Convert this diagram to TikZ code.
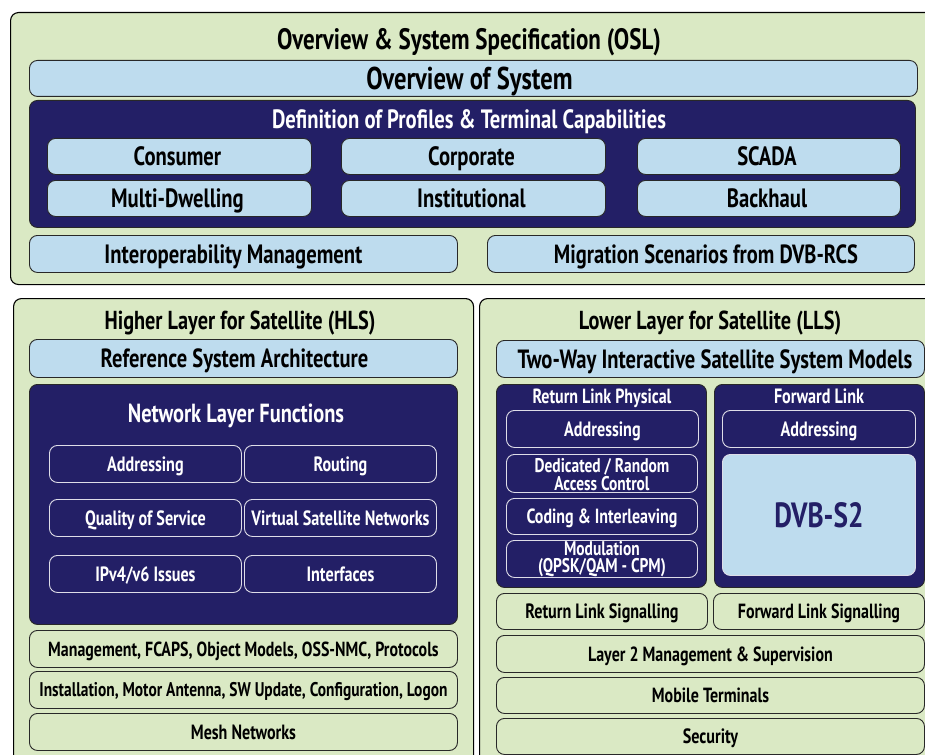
\documentclass[tikz,border=0pt]{standalone}
\usepackage{fontspec}
\setmainfont{PT Sans}[FakeStretch=0.78]
\definecolor{lgreen}{RGB}{218,233,196}
\definecolor{lblue}{RGB}{190,220,238}
\definecolor{navy}{RGB}{35,31,102}
\definecolor{edge}{RGB}{40,40,40}
\tikzset{
  base/.style={anchor=north west, rounded corners=8pt, inner sep=0pt, align=center, font=\bfseries},
  outer/.style={base, fill=lgreen, draw=black, line width=1.1pt},
  bluebox/.style={base, fill=lblue, draw=edge, line width=0.9pt, text=black},
  greenbox/.style={base, fill=lgreen, draw=edge, line width=0.9pt, text=black},
  navybox/.style={base, fill=navy, draw=edge, line width=0.9pt, text=white},
  navyitem/.style={base, fill=navy, draw=white!85!navy, line width=0.9pt, text=white},
  dvbbox/.style={base, fill=lblue, draw=white!85!navy, line width=0.9pt, text=navy},
  tx/.style={inner sep=0pt, text depth=0pt, font=\bfseries\fontsize{#1}{#1}\selectfont, text height=0.7*#1 pt},
  btx/.style={tx=#1, text=black},
  wtx/.style={tx=#1, text=white},
  wtwo/.style={inner sep=0pt, align=center, text=white, font=\bfseries\fontsize{19.8}{#1}\selectfont},
}
\newcommand{\bx}[6]{% style, name, x1, y1, x2, y2
  \pgfmathsetmacro{\bw}{#5-#3}\pgfmathsetmacro{\bh}{#6-#4}%
  \node[#1, minimum width=\bw pt, minimum height=\bh pt] (#2) at (#3,#4) {};}
\begin{document}
\begin{tikzpicture}[x=1pt,y=-1pt]
\useasboundingbox (0,0) rectangle (925,754);
\clip (0,0) rectangle (925,754);
\fill[white] (0,0) rectangle (925,754);
% ---------- OSL ----------
\bx{outer}{osl}{10}{12}{945}{284}
\node[btx=29.5] (osltitle) at (469,39) {Overview \& System Specification (OSL)};
\bx{bluebox}{ovs}{29}{60}{917}{96}
\node[btx=31.5] at ([xshift=-4pt]ovs.center) {Overview of System};
\bx{navybox}{def}{29}{100}{915}{227}
\node[wtx=26.5] (deftitle) at (469,119) {Definition of Profiles \& Terminal Capabilities};
\bx{bluebox}{cons}{47}{138}{311}{174}
\bx{bluebox}{corp}{341}{138}{605}{174}
\bx{bluebox}{scada}{637}{138}{900}{174}
\bx{bluebox}{multi}{47}{180}{311}{216}
\bx{bluebox}{inst}{341}{180}{605}{216}
\bx{bluebox}{back}{637}{180}{900}{216}
\foreach \n/\t in {cons/Consumer, corp/Corporate, scada/SCADA, multi/Multi-Dwelling, inst/Institutional, back/Backhaul}
  \node[btx=26.5] at ([xshift=-2pt]\n.center) {\t};
\bx{bluebox}{interop}{29}{235}{457}{272}
\bx{bluebox}{migr}{487}{235}{914}{272}
\node[btx=26.5] at ([xshift=-10pt]interop.center) {Interoperability Management};
\node[btx=26.3] at ([xshift=5pt]migr.center) {Migration Scenarios from DVB-RCS};
% ---------- HLS ----------
\bx{outer}{hls}{13}{298}{473}{790}
\node[btx=26] (hlstitle) at (240,320) {Higher Layer for Satellite (HLS)};
\bx{bluebox}{ref}{29}{339}{457}{377}
\node[btx=26.3] at ([xshift=-9pt]ref.center) {Reference System Architecture};
\bx{navybox}{nlf}{29}{384}{457}{624}
\node[wtx=26.2] (nlftitle) at (236,413) {Network Layer Functions};
\bx{navyitem}{haddr}{49}{445}{241}{482}
\bx{navyitem}{hrout}{244}{445}{436}{482}
\bx{navyitem}{hqos}{49}{499}{241}{536}
\bx{navyitem}{hvsn}{244}{499}{436}{536}
\bx{navyitem}{hipv}{49}{555}{241}{592}
\bx{navyitem}{hintf}{244}{555}{436}{592}
\foreach \n/\t in {haddr/Addressing, hrout/Routing, hqos/Quality of Service, hvsn/Virtual Satellite Networks, hipv/{IPv4/v6 Issues}, hintf/Interfaces}
  \node[wtx=20.7] at (\n.center) {\t};
\bx{greenbox}{mgmt}{29}{630}{457}{667}
\bx{greenbox}{instl}{29}{671}{457}{708}
\bx{greenbox}{mesh}{29}{713}{457}{750}
\node[btx=20.4] at (mgmt.center) {Management, FCAPS, Object Models, OSS-NMC, Protocols};
\node[btx=19.8] at (instl.center) {Installation, Motor Antenna, SW Update, Configuration, Logon};
\node[btx=20.6] at (mesh.center) {Mesh Networks};
% ---------- LLS ----------
\bx{outer}{lls}{479}{298}{945}{790}
\node[btx=26] (llstitle) at (710,320) {Lower Layer for Satellite (LLS)};
\bx{bluebox}{twoway}{496}{340}{924}{377}
\node[btx=26.4] at (715,359) {Two-Way Interactive Satellite System Models};
\bx{navybox}{rlp}{496}{384}{706}{587}
\bx{navybox}{fl}{714}{384}{924}{587}
\node[wtx=20.5] (rlptitle) at (602,396) {Return Link Physical};
\node[wtx=20.7] (fltitle) at (819,396) {Forward Link};
\bx{navyitem}{raddr}{506}{410}{698}{447}
\bx{navyitem}{rded}{506}{454}{697}{492}
\bx{navyitem}{rcod}{506}{498}{697}{534}
\bx{navyitem}{rmod}{506}{540}{697}{577}
\bx{navyitem}{faddr}{722}{410}{915}{447}
\bx{dvbbox}{dvb}{722}{454}{915}{575}
\node[wtx=20.7] at (raddr.center) {Addressing};
\node[wtx=20.7] at (faddr.center) {Addressing};
\node[wtwo=15.6] at ([yshift=-1pt]rded.center) {Dedicated / Random\\Access Control};
\node[wtx=20.5] at (rcod.center) {Coding \& Interleaving};
\node[wtwo=17] at ([yshift=-0.5pt]rmod.center) {Modulation\\(QPSK/QAM - CPM)};
\node[tx=35, text=navy] at (dvb.center) {DVB-S2};
\bx{greenbox}{rls}{496}{593}{707}{629}
\bx{greenbox}{fls}{713}{593}{924}{629}
\node[btx=20.7] at (rls.center) {Return Link Signalling};
\node[btx=20.5] at (fls.center) {Forward Link Signalling};
\bx{greenbox}{l2}{496}{635}{924}{672}
\bx{greenbox}{mob}{496}{677}{924}{713}
\bx{greenbox}{sec}{496}{718}{924}{754}
\node[btx=20.5] at (l2.center) {Layer 2 Management \& Supervision};
\node[btx=20.5] at (mob.center) {Mobile Terminals};
\node[btx=20.7] at (sec.center) {Security};
\end{tikzpicture}
\end{document}
